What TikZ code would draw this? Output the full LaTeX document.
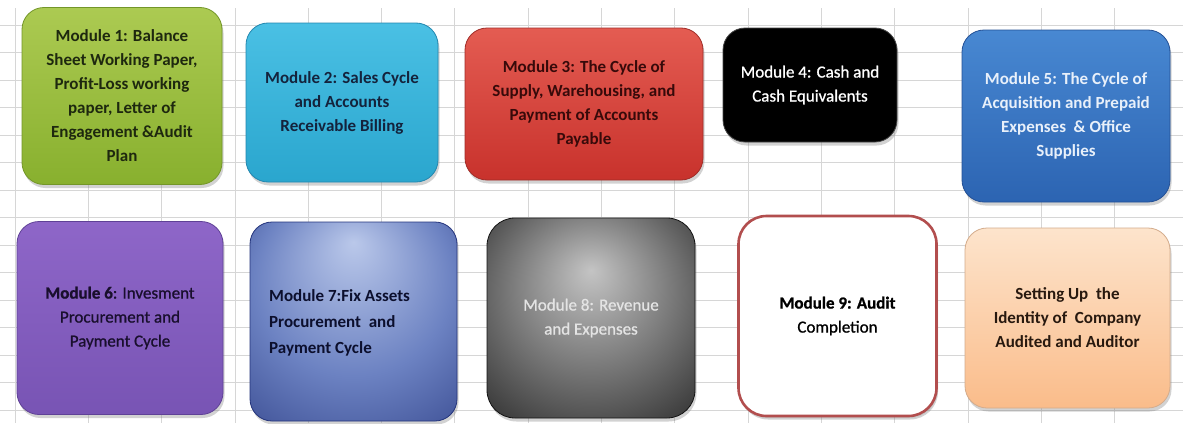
\documentclass[tikz,border=0pt]{standalone}
\usepackage{fontspec}
\setmainfont{Carlito}
\newfontfamily\semib{Carlito}[FakeBold=0.9]
\usetikzlibrary{shadows}
\definecolor{gridgray}{RGB}{214,214,214}
\definecolor{m1t}{RGB}{172,202,82}
\definecolor{m1b}{RGB}{136,176,46}
\definecolor{m1d}{RGB}{115,150,40}
\definecolor{m1x}{RGB}{30,40,15}
\definecolor{m2t}{RGB}{74,192,228}
\definecolor{m2b}{RGB}{42,166,206}
\definecolor{m2d}{RGB}{35,135,175}
\definecolor{m2x}{RGB}{20,35,60}
\definecolor{m3t}{RGB}{228,92,82}
\definecolor{m3b}{RGB}{200,50,44}
\definecolor{m3d}{RGB}{160,45,40}
\definecolor{m3x}{RGB}{55,10,10}
\definecolor{m4d}{RGB}{70,70,70}
\definecolor{m5t}{RGB}{72,136,210}
\definecolor{m5b}{RGB}{44,100,178}
\definecolor{m5d}{RGB}{35,80,150}
\definecolor{m5x}{RGB}{232,240,250}
\definecolor{m6t}{RGB}{142,102,200}
\definecolor{m6b}{RGB}{120,84,180}
\definecolor{m6d}{RGB}{95,65,150}
\definecolor{m6x}{RGB}{25,15,45}
\definecolor{m7a}{RGB}{186,200,234}
\definecolor{m7b}{RGB}{108,130,194}
\definecolor{m7c}{RGB}{36,52,124}
\definecolor{m7x}{RGB}{12,15,45}
\definecolor{m8a}{RGB}{196,196,196}
\definecolor{m8b}{RGB}{112,112,112}
\definecolor{m8c}{RGB}{20,20,20}
\definecolor{m8x}{RGB}{228,228,228}
\definecolor{m9d}{RGB}{178,78,78}
\definecolor{m10t}{RGB}{253,228,204}
\definecolor{m10b}{RGB}{250,188,138}
\definecolor{m10d}{RGB}{212,172,140}
\definecolor{m10x}{RGB}{40,25,15}
\pgfdeclareradialshading{msevenshade}{\pgfpoint{0bp}{20bp}}{color(0bp)=(m7a); color(24bp)=(m7b); color(50bp)=(m7c)}
\pgfdeclareradialshading{meightshade}{\pgfpoint{0bp}{12bp}}{color(0bp)=(m8a); color(22bp)=(m8b); color(46bp)=(m8c); color(50bp)=(m8c)}
\begin{document}
\begin{tikzpicture}[x=1pt,y=-1pt,
  gridline/.style={draw=gridgray, line width=0.7pt},
  modbox/.style={rounded corners=22pt, draw, line width=0.8pt,
    drop shadow={shadow xshift=1.5pt, shadow yshift=-3.5pt, opacity=0.35},
    align=center, inner sep=0pt,
    font=\fontsize{17}{24}\selectfont\bfseries},
  semibox/.style={font=\fontsize{17}{24}\selectfont\semib},
  modtext/.style={inner sep=0pt, font=\fontsize{17}{26}\selectfont\bfseries}
]
\useasboundingbox (0,0) rectangle (1183,423);
\fill[white] (0,0) rectangle (1183,423);
% grid
\foreach \i in {0,...,15} \draw[gridline] ({15+73.3*\i},8) -- ({15+73.3*\i},423);
\foreach \j in {0,...,14} \draw[gridline] (0,{25+27.5*\j}) -- (1183,{25+27.5*\j});
% row 1
\node[modbox, minimum width=200pt, minimum height=177pt, top color=m1t, bottom color=m1b, draw=m1d, text=m1x] (m1) at (122,96)
 {Module 1: Balance\\Sheet Working Paper,\\Profit-Loss working\\paper, Letter of\\Engagement \&Audit\\Plan};
\node[modbox, minimum width=192pt, minimum height=159pt, top color=m2t, bottom color=m2b, draw=m2d, text=m2x] (m2) at (342,102.5)
 {Module 2: Sales Cycle\\and Accounts\\Receivable Billing};
\node[modbox, minimum width=238pt, minimum height=152pt, top color=m3t, bottom color=m3b, draw=m3d, text=m3x] (m3) at (584,104)
 {Module 3: The Cycle of\\Supply, Warehousing, and\\Payment of Accounts\\Payable};
\node[modbox, semibox, minimum width=174pt, minimum height=114pt, fill=black, draw=m4d, text=white] (m4) at (810,85)
 {Module 4: Cash and\\Cash Equivalents};
\node[modbox, minimum width=208pt, minimum height=172pt, top color=m5t, bottom color=m5b, draw=m5d, text=m5x] (m5) at (1066,116)
 {Module 5: The Cycle of\\Acquisition and Prepaid\\Expenses~~\& Office\\Supplies};
% row 2
\node[modbox, semibox, minimum width=206pt, minimum height=193pt, top color=m6t, bottom color=m6b, draw=m6d, text=m6x] (m6) at (120,318)
 {{\bfseries Module 6}: Invesment\\Procurement and\\Payment Cycle};
\node[modbox, minimum width=207pt, minimum height=199pt, shading=msevenshade, draw=m7c] (m7) at (353.5,321.5) {};
\node[modtext, anchor=west, align=left, text=m7x] (t7) at (269,323)
 {Module 7:Fix Assets\\Procurement~ and\\Payment Cycle};
\node[modbox, semibox, rounded corners=28pt, minimum width=208pt, minimum height=200pt, shading=meightshade, draw=m8c, text=m8x] (m8) at (591,318)
 {Module 8: Revenue\\and Expenses};
\node[modbox, semibox, rounded corners=28pt, minimum width=198pt, minimum height=200pt, fill=white, draw=m9d, line width=2.6pt, text=black,
  drop shadow={shadow xshift=1pt, shadow yshift=-2pt, opacity=0.15}] (m9) at (837.5,316)
 {{\bfseries Module 9: Audit}\\Completion};
\node[modbox, minimum width=205pt, minimum height=180pt, top color=m10t, bottom color=m10b, draw=m10d, text=m10x] (m10) at (1067.5,318)
 {Setting Up~ the\\Identity of~ Company\\Audited and Auditor};
\end{tikzpicture}
\end{document}
